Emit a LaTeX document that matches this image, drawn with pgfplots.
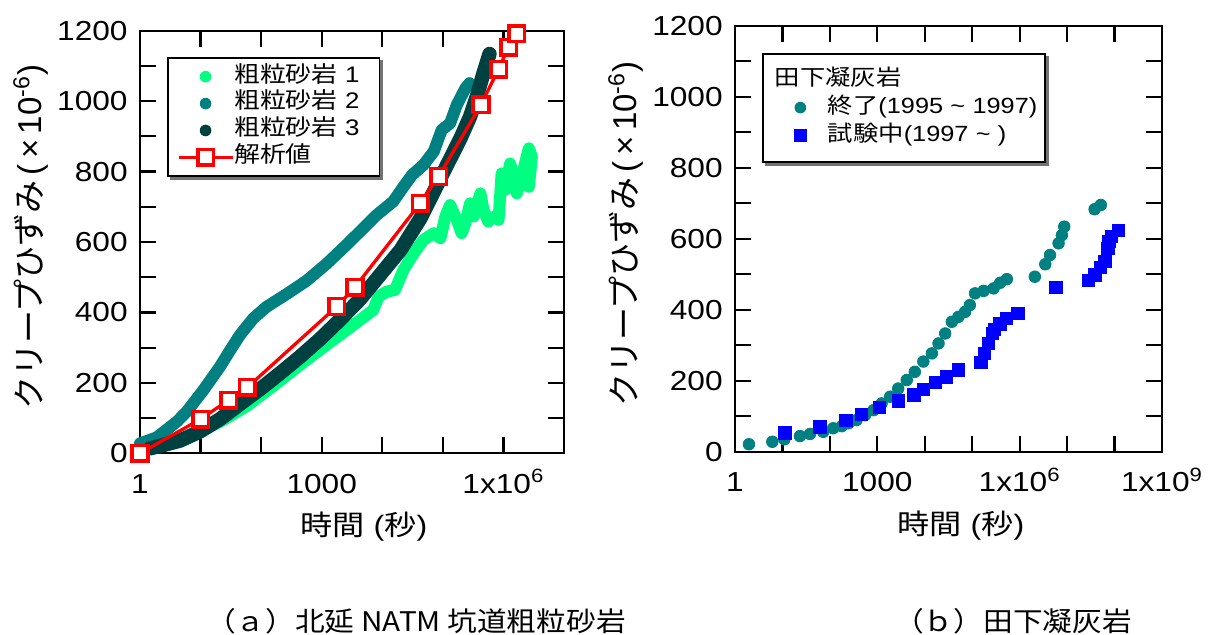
\documentclass[border=0pt]{standalone}
\usepackage{fontspec}
\setmainfont{Liberation Sans}[FakeStretch=1.15]
\newfontfamily\jp{Noto Sans CJK JP}[FakeStretch=1.15]
\newfontfamily\jpy{Noto Sans CJK JP}
\newfontfamily\lsy{Liberation Sans}
\newfontfamily\capfont{Noto Sans CJK JP}[FakeStretch=1.1]
\usepackage{pgfplots}
\pgfplotsset{compat=1.18}
\definecolor{gA}{RGB}{0,255,128}
\definecolor{gB}{RGB}{0,128,128}
\definecolor{gC}{RGB}{0,64,64}

\pgfplotsset{
  common/.style={
    scale only axis, anchor=south west, clip=false,
    xmin=1, ymin=0, ymax=1200,
    xminorticks=false, yminorticks=false,
    ytick={0,100,...,1200},
    yticklabels={0,,200,,400,,600,,800,,1000,,1200},
    axis line style={line width=1pt, black},
    every tick/.style={line width=1.1pt, black},
    major tick length=8pt,
    tick align=inside,
    tick label style={font=\fontsize{13.75pt}{16pt}\selectfont},
    xticklabel style={inner sep=0pt, text height=10pt, text depth=0pt, anchor=north, yshift=-9.8pt},
    yticklabel style={inner sep=0pt, anchor=east, xshift=-6pt},
    xlabel style={anchor=center, font=\fontsize{14pt}{16pt}\selectfont},
    ylabel style={anchor=center, rotate=0, font=\fontsize{16.5pt}{18pt}\selectfont},
    xlabel={{\jp 時間} ({\jp 秒})},
    ylabel={{\jpy クリープひずみ}\,{\lsy (\,×\,10\textsuperscript{-6})}},
    legend cell align=left,
  },
  band/.style={line width=#1, line cap=round, line join=round, mark=none},
}

\begin{document}
\begin{tikzpicture}[x=1pt,y=1pt]
\path[use as bounding box] (0,0) rectangle (607.5,317);

% ---------------- (a) ----------------
\begin{axis}[xmode=log, log basis x=10, common,
  at={(70pt,90.35pt)}, width=212pt, height=211.3pt,
  xmax=1e7,
  xtick={1,10,100,1000,10000,100000,1000000,10000000},
  xticklabels={1,,,1000,,,1x10\textsuperscript{6},},
  xlabel style={at={(axis description cs:0.528,-0.1727)}},
  ylabel style={at={(axis description cs:-0.257,0.511)}},
  legend style={name=legL, at={(0.063,0.937)}, anchor=north west, draw=black, line width=0.9pt,
    fill=white, inner xsep=4.65pt, inner ysep=2.5pt, row sep=0pt, column sep=0pt,
    font=\fontsize{11.25pt}{13pt}\selectfont,
    nodes={inner sep=0pt, text height=9.4pt, text depth=4.05pt, text width=68pt}},
]
\addplot[gA, band=6pt,
  legend image code/.code={\path[draw=none,fill=none] (0pt,-3pt) rectangle (27pt,3pt); \path[draw=none, fill=gA] (13.5pt,0pt) circle (2.9pt);}]
coordinates {
(1.66,14) (3.55,33) (10,62) (24,95) (57.5,134) (158,191) (437,251) (1202,308)
(3311,364) (7079,407) (8710,445) (11750,459) (16220,464) (22390,521) (33110,568)
(47860,606) (70790,625) (91200,611) (109600,672) (131800,705) (169800,663)
(204200,625) (234400,653) (281800,710) (323600,672) (416900,738) (467700,691)
(562300,658) (691800,672) (831800,663) (933300,795) (1072000,748) (1288000,823)
(1479000,786) (1660000,738) (1905000,776) (2138000,805) (2630000,866) (2951000,842)
(2630000,757)
};
\addlegendentry{{\jp 粗粒砂岩} 1}
\addplot[gB, band=6pt,
  legend image code/.code={\path[draw=none,fill=none] (0pt,-3pt) rectangle (27pt,3pt); \path[draw=none, fill=gB] (13.5pt,0pt) circle (2.9pt);}]
coordinates {
(1,28) (1.88,45) (2.95,71) (4.07,90) (5.89,118) (11.2,180) (20.9,246) (30.9,293)
(44.7,336) (74.1,383) (123,416) (263,452) (562,490) (1202,538) (2570,592)
(5495,648) (8128,677) (15140,715) (22390,757) (30900,790) (47860,819) (70790,857)
(95500,918) (131800,937) (169800,989) (234400,1036) (275400,1051)
};
\addlegendentry{{\jp 粗粒砂岩} 2}
\addplot[gC, band=7.2pt,
  legend image code/.code={\path[draw=none,fill=none] (0pt,-3pt) rectangle (27pt,3pt); \path[draw=none, fill=gC] (13.5pt,0pt) circle (2.9pt);}]
coordinates {
(1.46,14) (2.14,21) (4.57,36) (9.77,62) (20.9,97) (44.7,140) (95.5,182) (204,227)
(437,274) (933,324) (1995,379) (4266,437) (9120,506) (19950,577) (42660,667)
(70790,743) (117500,819) (195000,894) (281800,956) (363100,1013) (467700,1079)
(588800,1134)
};
\addlegendentry{{\jp 粗粒砂岩} 3}
\addplot[red, line width=1.65pt, mark=square*, mark size=3.9pt,
  mark options={fill=white, draw=red, line width=1.75pt},
  legend image code/.code={\draw[red, line width=1.65pt] (0pt,0pt) -- (27pt,0pt);
    \draw[red, fill=white, line width=1.75pt] (9.6pt,-3.9pt) rectangle (17.4pt,3.9pt);}]
coordinates {
(1,0) (10,97) (29,151) (59,187) (1778,417) (3550,472) (42170,710) (85000,786)
(426000,990) (831000,1091) (1216000,1153) (1670000,1191)
};
\addlegendentry{{\jp 解析値}}
\end{axis}
\fill[black!55] ([yshift=-1.5pt]legL.north east) rectangle ([xshift=1.5pt,yshift=-1.5pt]legL.south east);
\fill[black!55] ([xshift=1.5pt]legL.south west) rectangle ([xshift=1.5pt,yshift=-1.5pt]legL.south east);

% ---------------- (b) ----------------
\begin{axis}[xmode=log, log basis x=10, common,
  at={(367.5pt,91.15pt)}, width=213.5pt, height=213pt,
  xmax=1e9,
  xtick={1,10,100,1000,10000,100000,1000000,10000000,100000000,1000000000},
  xticklabels={1,,,1000,,,1x10\textsuperscript{6},,,1x10\textsuperscript{9}},
  xlabel style={at={(axis description cs:0.529,-0.1744)}},
  ylabel style={at={(axis description cs:-0.2553,0.511)}},
  legend style={name=legR, at={(0.0632,0.9366)}, anchor=north west, draw=black, line width=0.9pt,
    fill=white, inner xsep=5pt, inner ysep=6pt, row sep=0pt, column sep=0pt,
    font=\fontsize{11pt}{13pt}\selectfont,
    nodes={inner sep=0pt, text height=9.8pt, text depth=4.2pt, text width=103.5pt}},
]
\addlegendimage{empty legend}
\addlegendentry{\hspace*{-26.5pt}{\jp 田下凝灰岩}}
\addplot[gB, only marks, mark=*, mark size=2.9pt, mark options={draw=none, fill=gB},
  legend image code/.code={\path[draw=none,fill=none] (0pt,-3pt) rectangle (27.5pt,3pt); \path[draw=none, fill=gB] (13.75pt,0pt) circle (2.9pt);}]
coordinates {
(1.97,21) (6.12,28) (10.96,35) (23.4,44) (38,50) (72.4,56) (117.5,66) (177.8,72)
(245.5,80) (363.1,89) (549.5,103) (831.8,117) (1230,136) (1862,155) (2754,178)
(4169,202) (6166,225) (9333,254) (14130,277) (19500,305) (26920,333) (37150,366)
(51290,380) (70790,394) (89130,413) (114800,446) (173800,453) (281800,460)
(389000,476) (537000,486) (2089000,493) (3467000,528) (4365000,554) (6607000,587)
(7762000,610) (8710000,634) (38000000,683) (51300000,695)
};
\addlegendentry{\mbox{{\jp 終了}(1995 \textasciitilde\ 1997)}}
\addplot[blue, only marks, mark=square*, mark size=3.1pt, mark options={draw=none, fill=blue},
  legend image code/.code={\path[draw=none,fill=none] (0pt,-3pt) rectangle (27.5pt,3pt); \path[draw=none, fill=blue] (10.65pt,-3.1pt) rectangle (16.85pt,3.1pt);}]
coordinates {
(11.3,53.5) (61.7,70) (218.8,89) (467.7,105) (1096,124) (2754,143) (5888,160)
(9333,176) (16600,195) (28180,211) (51290,230) (151400,251) (182000,277)
(218800,305) (263000,333) (295000,345) (380000,360) (520000,376) (912000,390)
(5754000,463) (28180000,482) (38900000,498) (50100000,520) (63100000,536)
(72400000,573) (76700000,592) (85100000,606) (120200000,623)
};
\addlegendentry{\mbox{{\jp 試験中}(1997 \textasciitilde\ )}}
\end{axis}
\fill[black!55] ([yshift=-1.5pt]legR.north east) rectangle ([xshift=1.5pt,yshift=-1.5pt]legR.south east);
\fill[black!55] ([xshift=1.5pt]legR.south west) rectangle ([xshift=1.5pt,yshift=-1.5pt]legR.south east);

% captions
\node[anchor=base, font=\capfont\fontsize{13.5pt}{16pt}\selectfont] at (208,1.5) {（ａ）北延 NATM 坑道粗粒砂岩};
\node[anchor=base, font=\capfont\fontsize{13.5pt}{16pt}\selectfont] at (506.5,1.5) {（ｂ）田下凝灰岩};
\end{tikzpicture}
\end{document}
